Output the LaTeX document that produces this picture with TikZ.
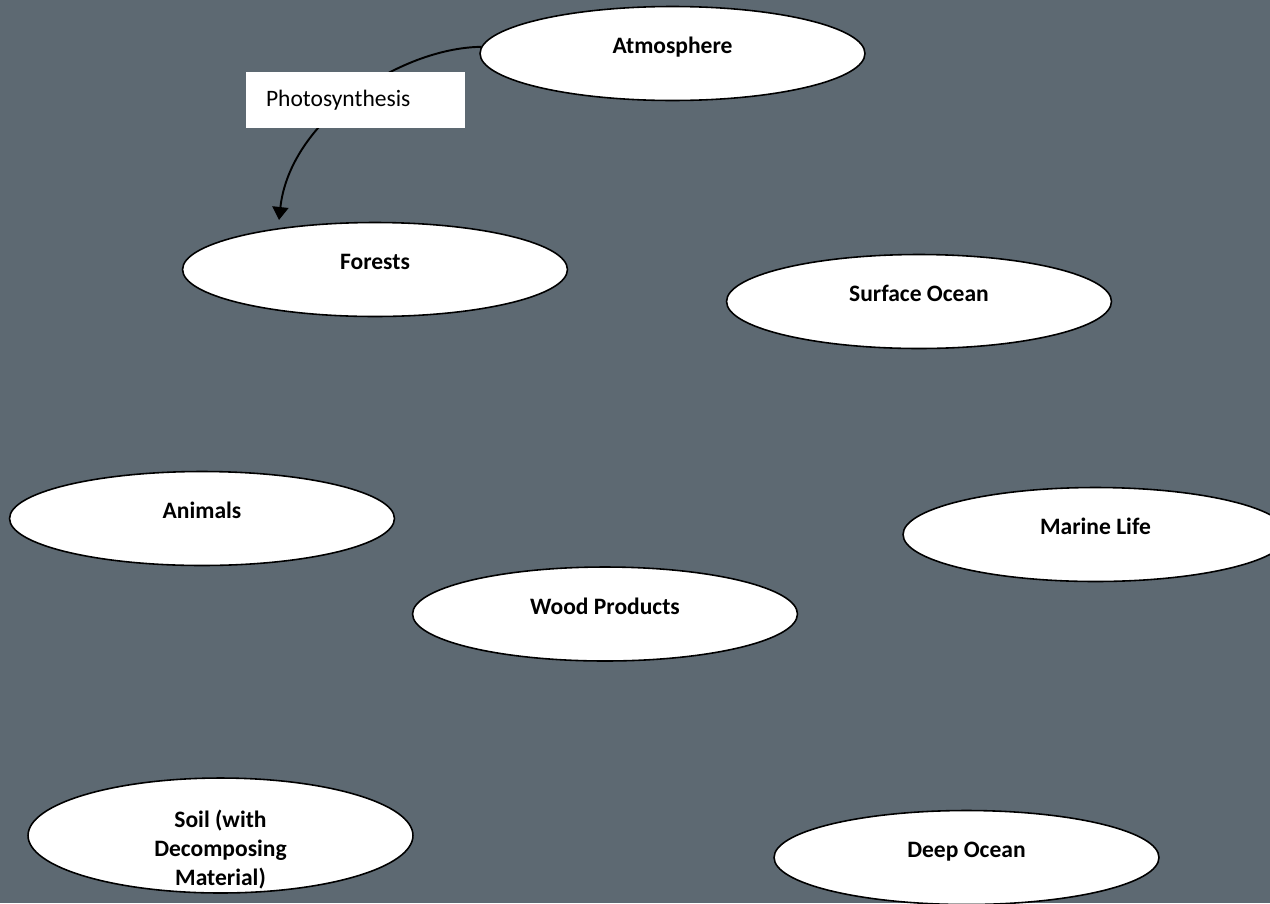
\documentclass[tikz,border=0pt]{standalone}
\usepackage{fontspec}
\setmainfont{Carlito}
\usepackage{tikz}
\usetikzlibrary{arrows.meta,shapes.geometric}
\definecolor{cycleslate}{RGB}{93,105,114}
\tikzset{
  pooltext/.style={anchor=north,yshift=-0.55cm,inner sep=0pt,align=center,
                   font=\fontsize{13.4}{16.4}\selectfont\bfseries,
                   execute at begin node=\strut},
  poolshape/.style={ellipse,draw=black,line width=0.9pt,fill=white,
                    minimum width=7.7cm,minimum height=1.88cm,inner sep=0pt},
  poolnode/.style={poolshape,label={[pooltext]north:#1}},
  fluxarrow/.style={-{Triangle[length=0.26cm,width=0.32cm]},line width=1.1pt,draw=black},
  fluxlabel/.style={rectangle,fill=white,minimum width=4.38cm,minimum height=1.12cm,
                    inner xsep=0.4cm,text width=3.58cm,align=left,
                    font=\fontsize{13.4}{16.4}\selectfont},
}

\begin{document}
\begin{tikzpicture}[x=0.02cm,y=-0.02cm]
  % page and background
  \useasboundingbox (0,0) rectangle (1270,903);
  \fill[cycleslate] (0,0) rectangle (1270,903);
  % carbon pools
  \coordinate (fortip) at (279,220);
  \node[poolnode=Atmosphere] (atm) at (672.5,53.5) {};
  \draw[fluxarrow] (atm.178) .. controls (400,48) and (290,120) .. (fortip);
  \node[poolnode=Forests] (forest) at (375,269.5) {};
  \node[poolnode=Surface Ocean] (surf) at (919,301.5) {};
  \node[poolnode=Animals] (animals) at (202,518.5) {};
  \node[poolnode=Marine Life] (marine) at (1095.5,534.5) {};
  \node[poolnode=Wood Products] (wood) at (605,614) {};
  \node[poolshape, minimum height=2.3cm,
        label={[pooltext,yshift=-0.1cm]north:{Soil (with\\Decomposing\\Material)}}]
        (soil) at (220.5,835.5) {};
  \node[poolnode=Deep Ocean] (deep) at (966.5,857.5) {};
  % flux label sits on top of the arrow
  \node[fluxlabel] (photo) at (355.5,100) {Photosynthesis};
\end{tikzpicture}
\end{document}
